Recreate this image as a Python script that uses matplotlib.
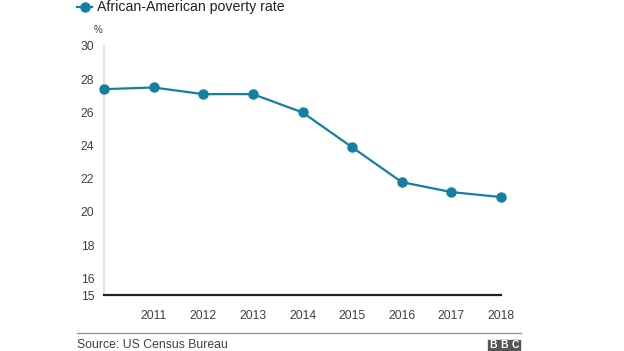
import matplotlib.pyplot as plt
from matplotlib.lines import Line2D
from matplotlib.patches import Rectangle

years = [2010, 2011, 2012, 2013, 2014, 2015, 2016, 2017, 2018]
rate = [27.4, 27.5, 27.1, 27.1, 26.0, 23.9, 21.8, 21.2, 20.9]
ytick_vals = [15, 16, 18, 20, 22, 24, 26, 28, 30]
xtick_labels = ['2011', '2012', '2013', '2014', '2015', '2016', '2017', '2018']

teal = '#1380a1'
plt.rcParams['font.family'] = ['Liberation Sans', 'DejaVu Sans']

W, H = 624, 351
fig = plt.figure(figsize=(W / 100, H / 100), dpi=100)
ax = fig.add_axes([104 / W, 1 - 295 / H, (501 - 104) / W, (295 - 46) / H])

ax.plot(years, rate, color=teal, lw=1.6, marker='o', ms=6.5, clip_on=False, zorder=3)

ax.set_xlim(2010, 2018)
ax.set_ylim(15, 30)
ax.set_xticks(years[1:])
ax.set_xticklabels(xtick_labels)
ax.set_yticks(ytick_vals)
ax.tick_params(length=0, labelsize=8.7, colors='#404040')
ax.tick_params(axis='x', pad=11)
ax.tick_params(axis='y', pad=7)
for s in ['top', 'right']:
    ax.spines[s].set_visible(False)
ax.spines['left'].set_color('#dcdcdc')
ax.spines['left'].set_linewidth(1.2)
ax.spines['bottom'].set_color('#222222')
ax.spines['bottom'].set_linewidth(1.6)

# legend at the top
ly = 1 - 7 / H
fig.add_artist(Line2D([77 / W, 92 / W], [ly, ly], color=teal, lw=1.6,
                      transform=fig.transFigure))
fig.add_artist(Line2D([84.5 / W], [ly], color=teal, marker='o', ms=6.5, lw=0,
                      transform=fig.transFigure))
fig.text(97 / W, ly, 'African-American poverty rate', fontsize=10.2,
         color='#222222', va='center', ha='left')
fig.text(98 / W, 1 - 30 / H, '%', fontsize=7, color='#404040', va='center', ha='center')

# footer
fig.add_artist(Line2D([77 / W, 521 / W], [1 - 333 / H, 1 - 333 / H], color='#999999',
                      lw=1.0, transform=fig.transFigure))
fig.text(77 / W, 1 - 345 / H, 'Source: US Census Bureau', fontsize=8.8,
         color='#404040', va='center', ha='left')
for i, ch in enumerate('BBC'):
    x0 = 488 + i * 11
    fig.add_artist(Rectangle((x0 / W, 1 - 350 / H), 10 / W, 10 / H, color='#555555',
                             transform=fig.transFigure))
    fig.text((x0 + 5) / W, 1 - 345 / H, ch, fontsize=7.5, color='white',
             fontweight='bold', ha='center', va='center')

fig.savefig('out.png', dpi=100)
